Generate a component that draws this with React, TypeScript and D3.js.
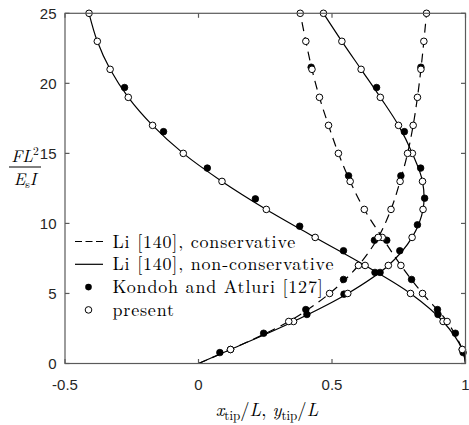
import React from "react";
import * as d3 from "d3";

// ---- data (F L^2 / (E_s I) vs tip coordinate) ----
const presentF = [1, 3, 5, 7, 9, 11, 13, 15, 17, 19, 21, 23, 25];
const presentNCx = [0.988, 0.916, 0.794, 0.624, 0.437, 0.254, 0.088, -0.057, -0.172, -0.263, -0.331, -0.379, -0.41];
const presentNCy = [0.12, 0.356, 0.559, 0.711, 0.8, 0.841, 0.839, 0.801, 0.749, 0.681, 0.609, 0.537, 0.468];
const presentCx = [0.988, 0.931, 0.839, 0.758, 0.688, 0.621, 0.568, 0.524, 0.487, 0.453, 0.425, 0.402, 0.381];
const presentCy = [0.12, 0.338, 0.491, 0.599, 0.673, 0.721, 0.755, 0.783, 0.804, 0.82, 0.833, 0.844, 0.854];

const kondohNCxF = [0.78, 2.16, 3.85, 6.5, 8.05, 9.8, 11.75, 13.95, 16.55, 19.7];
const kondohNCx = [0.991, 0.962, 0.895, 0.68, 0.543, 0.379, 0.213, 0.033, -0.131, -0.277];
const kondohNCyF = [0.78, 2.16, 3.85, 4.95, 6.5, 8.05, 9.9, 11.8, 13.95, 16.55, 19.7];
const kondohNCy = [0.08, 0.244, 0.402, 0.545, 0.661, 0.754, 0.82, 0.847, 0.832, 0.771, 0.667];
const kondohCF = [3.5, 6.0, 8.8, 13.4, 21.15];
const kondohCx = [0.897, 0.798, 0.705, 0.562, 0.422];
const kondohCy = [0.406, 0.543, 0.659, 0.758, 0.833];

const liF = [0, 1, 3, 5, 7, 9, 11, 13, 15, 17, 19, 21, 23, 25];
const liNCx = [1, 0.988, 0.916, 0.794, 0.624, 0.437, 0.254, 0.088, -0.057, -0.172, -0.263, -0.331, -0.379, -0.41];
const liNCy = [0, 0.12, 0.356, 0.559, 0.711, 0.8, 0.841, 0.839, 0.801, 0.749, 0.681, 0.609, 0.537, 0.468];
const liCx = [1, 0.988, 0.931, 0.839, 0.758, 0.688, 0.621, 0.568, 0.524, 0.487, 0.453, 0.425, 0.402, 0.381];
const liCy = [0, 0.12, 0.338, 0.491, 0.599, 0.673, 0.721, 0.755, 0.783, 0.804, 0.82, 0.833, 0.844, 0.854];

const xTicks = [-0.5, 0, 0.5, 1];
const xTickLabels = ["-0.5", "0", "0.5", "1"];
const yTicks = [0, 5, 10, 15, 20, 25];
const legendLabels = ["Li [140], conservative", "Li [140], non-conservative", "Kondoh and Atluri [127]", "present"];

const W = 469, H = 425;
const L = 65, R = 465.5, T = 13.3, B = 363.5;

export default function App() {
  const x = d3.scaleLinear().domain([-0.5, 1]).range([L, R]);
  const y = d3.scaleLinear().domain([0, 25]).range([B, T]);
  const line = d3
    .line<[number, number]>()
    .x((d) => x(d[0]))
    .y((d) => y(d[1]))
    .curve(d3.curveCatmullRom.alpha(0.5));
  const zip = (xs: number[], fs: number[]) => xs.map((v, i) => [v, fs[i]] as [number, number]);

  const axisColor = "#5a5a5a";
  const tickFont = "'Liberation Sans', Arial, sans-serif";
  const serif = "'Latin Modern Roman', 'CMU Serif', 'Liberation Serif', 'Times New Roman', serif";
  const r = 3.3;

  const filled = [
    ...zip(kondohNCx, kondohNCxF),
    ...zip(kondohNCy, kondohNCyF),
    ...zip(kondohCx, kondohCF),
    ...zip(kondohCy, kondohCF),
  ];
  const open = [
    ...zip(presentNCx, presentF),
    ...zip(presentNCy, presentF),
    ...zip(presentCx, presentF),
    ...zip(presentCy, presentF),
  ];

  const legX = 75, legY0 = 241.5, legDy = 22.8;

  return (
    <svg width={W} height={H} style={{ position: "absolute", left: 0, top: 0, background: "#fff" }}>
      <defs>
        <clipPath id="plotclip">
          <rect x={L} y={T - 5} width={R - L} height={B - T + 5} />
        </clipPath>
      </defs>
      {/* curves */}
      <g clipPath="url(#plotclip)" fill="none" stroke="#000" strokeWidth={1.2}>
        <path d={line(zip(liNCx, liF)) || ""} />
        <path d={line(zip(liNCy, liF)) || ""} />
        <path d={line(zip(liCx, liF)) || ""} strokeDasharray="9 6" />
        <path d={line(zip(liCy, liF)) || ""} strokeDasharray="9 6" />
      </g>
      {/* markers */}
      <g>
        {filled.map((d, i) => (
          <circle key={"f" + i} cx={x(d[0])} cy={y(d[1])} r={r} fill="#000" stroke="#000" strokeWidth={0.8} />
        ))}
        {open.map((d, i) => (
          <circle key={"o" + i} cx={x(d[0])} cy={y(d[1])} r={r} fill="#fff" stroke="#000" strokeWidth={1} />
        ))}
      </g>
      {/* axes box */}
      <g stroke={axisColor} strokeWidth={1.2} fill="none">
        <rect x={L} y={T} width={R - L} height={B - T} />
        {xTicks.map((t) => (
          <g key={"xt" + t}>
            <line x1={x(t)} x2={x(t)} y1={B} y2={B - 4.5} />
            <line x1={x(t)} x2={x(t)} y1={T} y2={T + 4.5} />
          </g>
        ))}
        {yTicks.map((t) => (
          <g key={"yt" + t}>
            <line x1={L} x2={L + 4.5} y1={y(t)} y2={y(t)} />
            <line x1={R} x2={R - 4.5} y1={y(t)} y2={y(t)} />
          </g>
        ))}
      </g>
      {/* tick labels */}
      <g fill="#262626" fontFamily={tickFont} fontSize={15}>
        {xTicks.map((t, i) => (
          <text key={"xl" + t} x={x(t)} y={390} textAnchor="middle">
            {xTickLabels[i]}
          </text>
        ))}
        {yTicks.map((t) => (
          <text key={"yl" + t} x={56.5} y={y(t) + 5.3} textAnchor="end">
            {t}
          </text>
        ))}
      </g>
      {/* x label */}
      <text x={267} y={416} textAnchor="middle" fontFamily={serif} fontSize={18.5} fill="#000">
        <tspan fontStyle="italic">x</tspan>
        <tspan fontSize={13} dy={4}>tip</tspan>
        <tspan dy={-4}>/</tspan>
        <tspan fontStyle="italic">L</tspan>
        <tspan>,  </tspan>
        <tspan fontStyle="italic">y</tspan>
        <tspan fontSize={13} dy={4}>tip</tspan>
        <tspan dy={-4}>/</tspan>
        <tspan fontStyle="italic">L</tspan>
      </text>
      {/* y label fraction */}
      <g fontFamily={serif} fill="#000">
        <text x={25} y={162} textAnchor="middle" fontSize={17}>
          <tspan fontStyle="italic">FL</tspan>
          <tspan fontSize={11.5} dy={-7}>2</tspan>
        </text>
        <line x1={9} x2={41} y1={167} y2={167} stroke="#000" strokeWidth={1} />
        <text x={25} y={185} textAnchor="middle" fontSize={17}>
          <tspan fontStyle="italic">E</tspan>
          <tspan fontSize={11.5} dy={3}>s</tspan>
          <tspan fontStyle="italic" dy={-3}>I</tspan>
        </text>
      </g>
      {/* legend */}
      <g fontFamily={serif} fontSize={18} fill="#000" letterSpacing={0.8}>
        <line x1={legX} x2={legX + 28} y1={legY0} y2={legY0} stroke="#000" strokeWidth={1.2} strokeDasharray="7 3.5" />
        <line x1={legX} x2={legX + 28} y1={legY0 + legDy} y2={legY0 + legDy} stroke="#000" strokeWidth={1.2} />
        <circle cx={legX + 13.5} cy={legY0 + 2 * legDy} r={r} fill="#000" />
        <circle cx={legX + 13.5} cy={legY0 + 3 * legDy} r={r} fill="#fff" stroke="#000" strokeWidth={1} />
        {legendLabels.map((s, i) => (
          <text key={s} x={legX + 37.5} y={legY0 + i * legDy + 6}>
            {s}
          </text>
        ))}
      </g>
    </svg>
  );
}
